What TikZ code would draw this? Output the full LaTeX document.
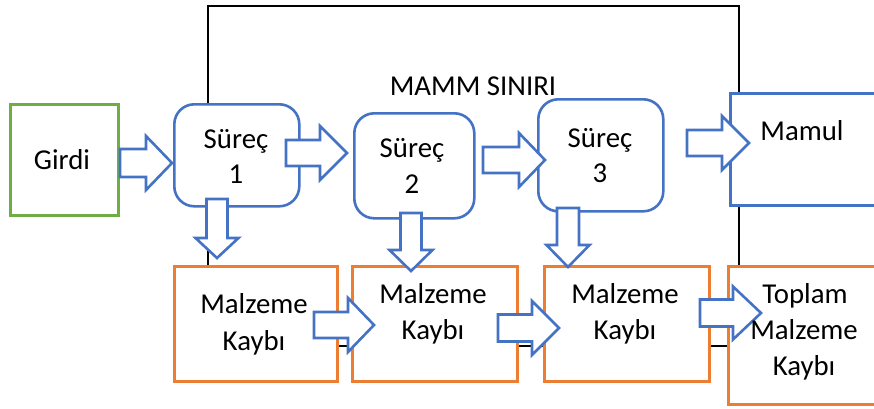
\documentclass[tikz,border=0pt]{standalone}
\usepackage{fontspec}
\setmainfont{Carlito}
\usetikzlibrary{calc}
\definecolor{pblue}{HTML}{4472C4}
\definecolor{porange}{HTML}{ED7D31}
\definecolor{pgreen}{HTML}{70AD47}

\tikzset{
  box/.style={draw, line width=2.6pt, fill=white, anchor=north west, inner sep=0pt},
  inbox/.style={box, draw=pgreen},
  procbox/.style={box, draw=pblue, rounded corners=20pt},
  outbox/.style={box, draw=pblue},
  lossbox/.style={box, draw=porange},
  frame/.style={draw=black, line width=2.2pt, anchor=north west, inner sep=0pt},
  barrow/.style={draw=pblue, line width=2.6pt, fill=white, line join=miter},
  lbl/.style={anchor=base, inner sep=0pt, font=\fontsize{28.8}{34}\selectfont},
}

% horizontal block arrow: start, tip, shaft half-width, head half-width, head length
\newcommand\harrow[5]{%
  \draw[barrow] let \p1=(#1), \p2=(#2) in
    (\x1,\y1+#3) -- (\x2-#5,\y1+#3) -- (\x2-#5,\y1+#4) -- (\x2,\y1)
    -- (\x2-#5,\y1-#4) -- (\x2-#5,\y1-#3) -- (\x1,\y1-#3) -- cycle;}
% downward block arrow: start, tip, shaft half-width, head half-width, head length
\newcommand\varrow[5]{%
  \draw[barrow] let \p1=(#1), \p2=(#2) in
    (\x1-#3,\y1) -- (\x1-#3,\y2+#5) -- (\x1-#4,\y2+#5) -- (\x1,\y2)
    -- (\x1+#4,\y2+#5) -- (\x1+#3,\y2+#5) -- (\x1+#3,\y1) -- cycle;}

\begin{document}
\begin{tikzpicture}[x=1pt,y=-1pt]
  \useasboundingbox (0,0) rectangle (874,408);

  % system boundary
  \node[frame, minimum width=531pt, minimum height=340pt] (boundary) at (207,5) {};

  % boxes
  \node[inbox, minimum width=108pt, minimum height=111pt] (girdi) at (9,103) {};
  \node[procbox, minimum width=125pt, minimum height=102pt] (s1) at (173,103) {};
  \node[procbox, minimum width=120pt, minimum height=105pt] (s2) at (353,112) {};
  \node[procbox, minimum width=125pt, minimum height=112pt] (s3) at (537,98) {};
  \node[outbox, minimum width=160pt, minimum height=112pt] (mamul) at (729,92) {};
  \node[lossbox, minimum width=163pt, minimum height=115pt] (mk1) at (173,265) {};
  \node[lossbox, minimum width=165pt, minimum height=115pt] (mk2) at (351,265) {};
  \node[lossbox, minimum width=165pt, minimum height=115pt] (mk3) at (543,265) {};
  \node[lossbox, minimum width=160pt, minimum height=138pt] (toplam) at (727,265) {};

  % arrow end points
  \coordinate (a0s) at (120,163); \coordinate (a0t) at (172,163);
  \coordinate (a1s) at (286,153); \coordinate (a1t) at (347,153);
  \coordinate (a2s) at (483,160); \coordinate (a2t) at (545,160);
  \coordinate (a3s) at (687,143); \coordinate (a3t) at (749,143);
  \coordinate (d1s) at (217,199); \coordinate (d1t) at (217,258);
  \coordinate (d2s) at (411,213); \coordinate (d2t) at (411,271);
  \coordinate (d3s) at (568,208); \coordinate (d3t) at (568,267);
  \coordinate (b1s) at (314,325); \coordinate (b1t) at (374,325);
  \coordinate (b2s) at (498,328); \coordinate (b2t) at (559,328);
  \coordinate (b3s) at (700,313); \coordinate (b3t) at (761,313);

  % process flow
  \harrow{a0s}{a0t}{14pt}{27pt}{26pt}
  \harrow{a1s}{a1t}{13pt}{27pt}{27pt}
  \harrow{a2s}{a2t}{13pt}{27pt}{26pt}
  \harrow{a3s}{a3t}{13pt}{27pt}{27pt}
  % losses
  \varrow{d1s}{d1t}{10.5pt}{21.5pt}{20pt}
  \varrow{d2s}{d2t}{10.5pt}{21.5pt}{21pt}
  \varrow{d3s}{d3t}{11pt}{21.5pt}{22pt}
  \harrow{b1s}{b1t}{13pt}{27pt}{26pt}
  \harrow{b2s}{b2t}{13.5pt}{27pt}{27pt}
  \harrow{b3s}{b3t}{13.5pt}{26.5pt}{28pt}

  % labels
  \node[lbl] (tb) at (473,95) {MAMM SINIRI};
  \node[lbl] (tg) at (62,169) {Girdi};
  \node[lbl] (t1a) at (236,148) {Süreç};
  \node[lbl] (t1b) at (236,183) {1};
  \node[lbl] (t2a) at (412,157) {Süreç};
  \node[lbl] (t2b) at (412,193) {2};
  \node[lbl] (t3a) at (600,147) {Süreç};
  \node[lbl] (t3b) at (600,182) {3};
  \node[lbl] (tm) at (802,140) {Mamul};
  \node[lbl] (k1a) at (254,313) {Malzeme};
  \node[lbl] (k1b) at (254,350) {Kaybı};
  \node[lbl] (k2a) at (433,303) {Malzeme};
  \node[lbl] (k2b) at (433,339) {Kaybı};
  \node[lbl] (k3a) at (625,303) {Malzeme};
  \node[lbl] (k3b) at (625,339) {Kaybı};
  \node[lbl] (kta) at (805,303) {Toplam};
  \node[lbl] (ktb) at (804,339) {Malzeme};
  \node[lbl] (ktc) at (804,375) {Kaybı};
\end{tikzpicture}
\end{document}
